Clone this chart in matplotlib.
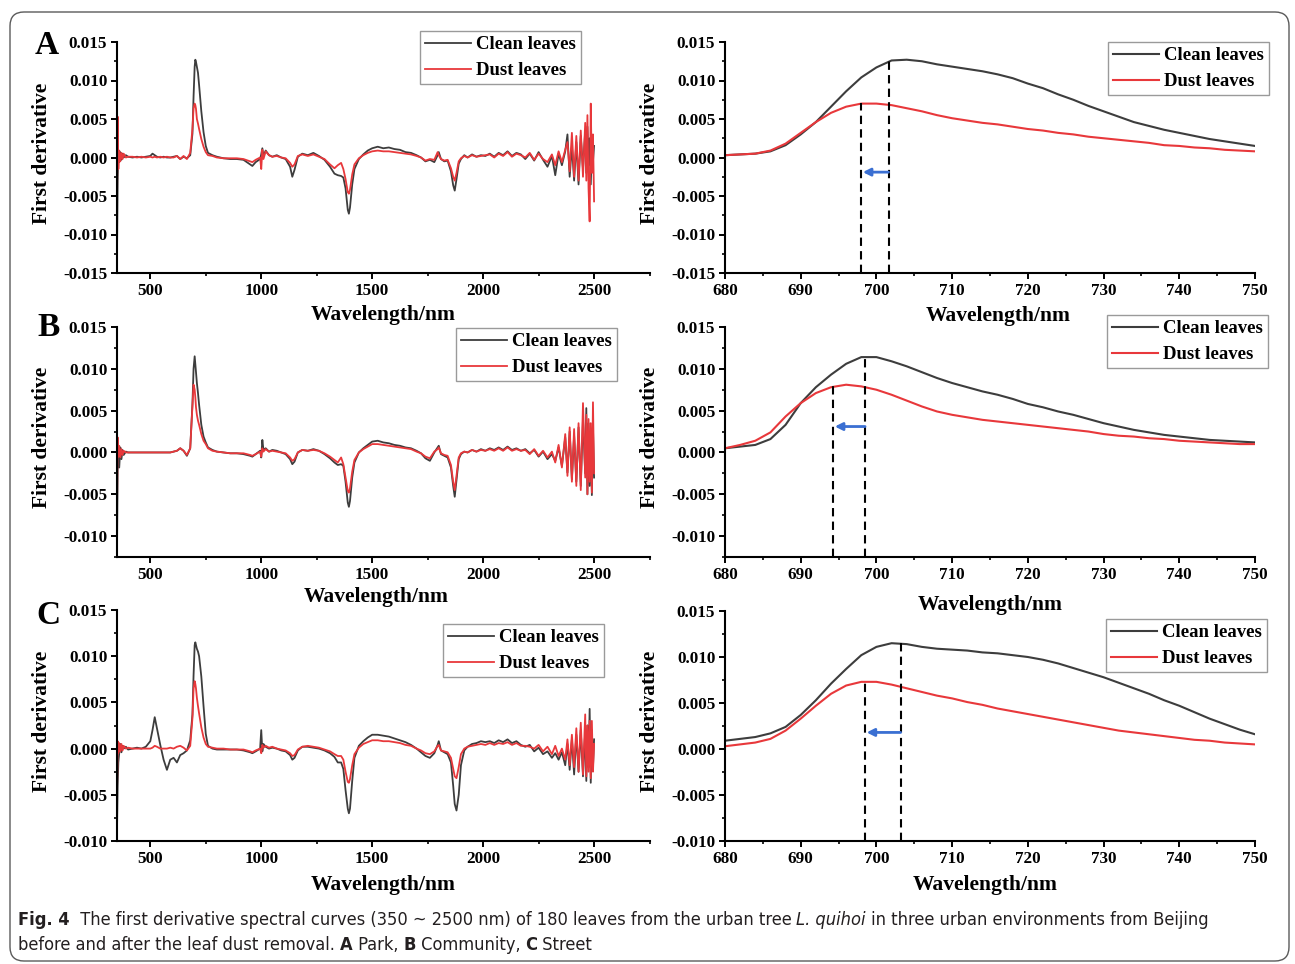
import numpy as np
import matplotlib
matplotlib.use('Agg')
import matplotlib.pyplot as plt
from matplotlib import font_manager as fm
from matplotlib.patches import FancyBboxPatch
from matplotlib.ticker import MultipleLocator, FormatStrFormatter
from matplotlib.transforms import IdentityTransform

# ------------------------------------------------------------------ data
# full-range first-derivative spectra (values in units of 1e-3)
full_wl = [350, 353, 356, 360, 365, 370, 375, 380, 390, 400,
           420, 440, 460, 480, 500, 510, 520, 530, 545, 560,
           575, 590, 605, 620, 635, 650, 665, 680, 690, 695,
           700, 703, 706, 710, 715, 720, 730, 740, 750, 760,
           780, 800, 830, 860, 890, 920, 950, 960, 975, 995,
           1000, 1005, 1010, 1020, 1035, 1050, 1070, 1090, 1110, 1130,
           1140, 1150, 1165, 1185, 1210, 1235, 1260, 1285, 1310, 1330,
           1345, 1360, 1370, 1380, 1390, 1395, 1400, 1410, 1420, 1440,
           1460, 1480, 1500, 1525, 1550, 1575, 1600, 1625, 1650, 1675,
           1700, 1720, 1740, 1760, 1780, 1795, 1800, 1810, 1825, 1840,
           1855, 1865, 1872, 1880, 1890, 1900, 1915, 1930, 1950, 1970,
           1990, 2010, 2030, 2050, 2070, 2090, 2110, 2130, 2150, 2170,
           2190, 2210, 2230, 2250, 2270, 2290, 2310, 2325, 2340, 2355,
           2370, 2380, 2390, 2400, 2410, 2420, 2430, 2440, 2450, 2460,
           2465, 2470, 2475, 2480, 2485, 2490, 2495, 2500]

park_clean_full = [-12.5, -3.0, 0.8, -0.6, 0.7, -0.3, 0.5, 0.0, 0.3, 0.1,
                   0.0, 0.1, 0.0, 0.1, 0.2, 0.5, 0.3, 0.1, 0.0, 0.1,
                   0.0, 0.0, 0.1, 0.2, -0.2, 0.1, -0.1, 0.3, 3.1, 7.9,
                   11.8, 12.7, 12.4, 11.8, 11.0, 9.4, 6.0, 3.3, 1.5, 0.6,
                   0.3, 0.1, -0.1, -0.2, -0.2, -0.3, -0.9, -1.1, -0.6, -0.2,
                   0.4, 1.2, 0.2, 0.9, 0.3, 0.1, 0.3, 0.0, -0.2, -1.2,
                   -2.5, -1.6, 0.1, 0.5, 0.3, 0.6, 0.2, -0.3, -1.2, -2.1,
                   -2.3, -2.4, -2.6, -4.0, -6.8, -7.3, -6.5, -3.5, -1.5, -0.2,
                   0.4, 0.9, 1.2, 1.4, 1.2, 1.3, 1.1, 1.0, 0.7, 0.6,
                   0.3, 0.0, -0.5, -0.3, -0.6, 0.3, 0.7, -0.2, -0.5, -0.4,
                   -1.8, -3.6, -4.3, -2.8, -0.8, -0.2, 0.3, 0.0, 0.4, 0.1,
                   0.3, 0.2, 0.5, 0.1, 0.6, 0.3, 0.8, 0.2, 0.6, 0.4,
                   -0.2, 0.5, -0.4, 0.7, -0.3, -1.2, 0.2, -2.3, 0.5, -1.0,
                   0.8, 3.0, -2.5, 1.5, -3.0, 2.0, -3.5, 2.8, -1.5, 3.5,
                   -2.0, 4.0, -1.0, 2.5, -3.5, 1.5, -0.5, 1.5]
park_dust_full = [-6.0, 5.3, -1.5, 0.9, -0.5, 0.6, -0.2, 0.5, 0.0, 0.1,
                  0.1, 0.0, 0.1, 0.0, 0.1, 0.0, 0.1, 0.0, 0.1, 0.0,
                  0.1, 0.0, 0.0, 0.2, -0.2, 0.2, -0.2, 0.6, 3.7, 6.4,
                  7.0, 6.8, 6.3, 5.0, 4.4, 3.7, 2.4, 1.4, 0.7, 0.3,
                  0.2, 0.0, -0.1, -0.1, -0.1, -0.2, -0.5, -0.6, -0.3, 0.0,
                  -1.5, 1.0, -0.2, 0.8, 0.3, 0.1, 0.2, 0.0, -0.1, -0.7,
                  -1.2, -0.9, 0.2, 0.4, 0.2, 0.4, 0.1, -0.2, -0.9, -1.4,
                  -1.0, -0.7, -1.5, -2.8, -4.5, -4.7, -4.2, -2.2, -0.9, -0.1,
                  0.3, 0.6, 0.8, 0.9, 0.8, 0.8, 0.7, 0.6, 0.5, 0.4,
                  0.2, 0.0, -0.4, -0.2, -0.3, 0.7, 0.3, -0.2, -0.4, -0.3,
                  -1.4, -2.5, -3.0, -2.0, -0.5, -0.1, 0.2, 0.0, 0.3, 0.1,
                  0.2, 0.3, 0.4, 0.0, 0.5, 0.2, 0.7, 0.1, 0.5, 0.3,
                  0.0, 0.6, -0.3, 0.5, -0.2, -0.6, 0.4, -1.0, 0.8, -0.6,
                  1.0, 2.0, -1.8, 3.2, -2.5, 2.8, -3.0, 3.5, -2.5, 4.5,
                  -3.0, 5.5, -4.0, -8.3, 7.0, -2.0, 3.0, -5.7]

comm_clean_full = [-11.7, -2.0, 0.5, -1.8, 0.6, -0.8, 0.3, -0.3, 0.1, 0.0,
                   0.0, 0.0, 0.0, 0.0, 0.0, 0.0, 0.0, 0.0, 0.0, 0.0,
                   0.0, 0.0, 0.1, 0.2, 0.5, 0.2, -0.4, 0.5, 5.8, 10.0,
                   11.5, 10.6, 9.6, 8.3, 7.1, 5.7, 3.3, 1.9, 1.2, 0.6,
                   0.3, 0.1, 0.0, -0.1, -0.1, -0.2, -0.4, -0.5, -0.2, 0.2,
                   -0.6, 1.5, 0.3, 0.5, 0.1, 0.3, 0.2, 0.0, -0.2, -0.8,
                   -1.4, -1.1, 0.0, 0.3, 0.2, 0.4, 0.2, -0.2, -0.7, -1.2,
                   -1.5, -1.4, -1.6, -3.5, -6.0, -6.5, -5.8, -3.0, -1.2, 0.0,
                   0.5, 0.9, 1.3, 1.4, 1.2, 1.1, 0.9, 0.8, 0.6, 0.5,
                   0.2, -0.1, -0.7, -1.0, 0.0, 0.6, 0.8, -0.2, -0.4, -0.6,
                   -1.8, -4.0, -5.3, -3.3, -0.8, -0.2, 0.1, 0.0, 0.3, 0.1,
                   0.4, 0.2, 0.5, 0.3, 0.6, 0.3, 0.7, 0.3, 0.5, 0.2,
                   0.4, -0.1, 0.3, -0.5, 0.1, -0.8, -0.2, -1.0, 0.6, -1.6,
                   1.8, -2.4, 2.5, -3.2, 2.0, -3.5, 3.0, -4.0, 4.0, -2.5,
                   5.3, -5.0, 3.5, -4.0, 2.5, -5.1, 3.0, -3.0]
comm_dust_full = [-6.8, 1.8, -0.5, 0.8, -0.6, 0.4, -0.3, 0.2, 0.0, 0.0,
                  0.0, 0.0, 0.0, 0.0, 0.0, 0.0, 0.0, 0.0, 0.0, 0.0,
                  0.0, 0.0, 0.1, 0.2, 0.5, 0.2, -0.3, 0.5, 5.7, 8.1,
                  7.5, 6.6, 5.4, 4.5, 3.8, 3.3, 2.2, 1.4, 1.0, 0.5,
                  0.2, 0.1, 0.0, -0.1, -0.1, -0.1, -0.3, -0.4, -0.2, 0.1,
                  -0.5, 0.5, 0.1, 0.4, 0.1, 0.2, 0.1, 0.0, -0.1, -0.6,
                  -1.0, -0.8, 0.0, 0.3, 0.2, 0.3, 0.2, -0.1, -0.5, -0.9,
                  -1.2, -0.6, -1.4, -3.0, -4.6, -4.8, -4.3, -2.3, -0.9, 0.0,
                  0.4, 0.7, 1.0, 1.0, 0.9, 0.8, 0.7, 0.6, 0.5, 0.4,
                  0.1, -0.1, -0.5, -0.7, 0.1, 0.4, 0.6, -0.1, -0.3, -0.4,
                  -1.5, -3.5, -4.5, -2.8, -0.6, -0.1, 0.1, 0.0, 0.3, 0.1,
                  0.3, 0.2, 0.4, 0.2, 0.5, 0.2, 0.6, 0.2, 0.4, 0.2,
                  0.3, -0.2, 0.4, -0.4, 0.2, -0.6, 0.1, -1.2, 0.9, -1.8,
                  2.2, -2.8, 3.0, -3.5, 2.8, -4.0, 3.5, -4.5, 5.9, -3.0,
                  4.5, -5.0, 4.0, -3.5, 3.5, -4.8, 6.0, -2.5]

street_clean_full = [-8.8, -4.0, -1.5, -0.5, 0.5, -0.4, 0.3, 0.0, 0.2, -0.1,
                     0.0, 0.1, 0.0, 0.2, 0.8, 2.0, 3.4, 2.2, 0.4, -1.2,
                     -2.3, -1.2, -1.0, -1.5, -0.7, -0.5, -0.2, 0.9, 3.7, 7.9,
                     11.2, 11.5, 11.2, 10.8, 10.5, 10.0, 7.8, 4.6, 1.6, 0.3,
                     0.0, -0.1, -0.1, -0.1, -0.1, -0.2, -0.4, -0.5, -0.3, 0.0,
                     2.0, -0.3, 0.5, 0.2, 0.0, 0.1, 0.0, -0.2, -0.3, -0.7,
                     -1.2, -1.0, -0.2, 0.2, 0.2, 0.1, 0.0, -0.2, -0.5, -0.9,
                     -1.5, -1.5, -2.2, -4.5, -6.5, -7.0, -6.5, -3.5, -1.0, 0.3,
                     0.8, 1.2, 1.5, 1.5, 1.4, 1.3, 1.1, 0.9, 0.7, 0.4,
                     0.0, -0.4, -0.8, -1.0, -0.5, 0.4, 0.8, -0.2, -0.4, -0.6,
                     -1.5, -4.0, -6.0, -6.7, -5.0, -1.8, -0.2, 0.2, 0.5, 0.6,
                     0.8, 0.7, 0.8, 0.6, 0.9, 0.7, 1.0, 0.6, 0.8, 0.4,
                     0.2, 0.4, -0.3, 0.1, -0.6, -0.3, -1.0, -0.5, -1.2, -0.4,
                     -1.8, 0.5, -2.3, 1.0, -2.8, 1.5, -2.5, 2.0, -3.0, 1.8,
                     -3.5, 2.5, -2.0, 4.3, -3.7, 2.0, -2.0, 1.0]
street_dust_full = [-5.0, 0.8, -0.5, 0.6, -0.3, 0.5, -0.2, 0.3, 0.0, 0.1,
                    0.0, 0.0, 0.0, 0.0, 0.0, 0.1, 0.3, 0.2, 0.0, 0.0,
                    0.0, 0.1, 0.0, 0.2, 0.3, 0.1, -0.2, 0.3, 3.3, 6.5,
                    7.3, 7.0, 6.5, 5.5, 4.6, 3.8, 2.3, 1.2, 0.5, 0.2,
                    0.1, 0.0, 0.0, -0.1, -0.1, -0.1, -0.3, -0.4, -0.2, 0.0,
                    -0.5, 0.4, 0.1, 0.3, 0.1, 0.2, 0.0, -0.1, -0.2, -0.5,
                    -0.8, -0.7, -0.1, 0.2, 0.3, 0.2, 0.1, -0.1, -0.3, -0.6,
                    -0.8, -0.8, -1.2, -2.5, -3.6, -3.7, -3.3, -1.8, -0.6, 0.1,
                    0.5, 0.7, 0.9, 0.9, 0.8, 0.8, 0.7, 0.6, 0.4, 0.3,
                    0.0, -0.2, -0.5, -0.6, -0.3, 0.3, 0.4, -0.2, -0.3, -0.4,
                    -1.0, -2.2, -3.0, -3.2, -2.0, -0.6, 0.0, 0.2, 0.3, 0.4,
                    0.5, 0.4, 0.6, 0.4, 0.6, 0.5, 0.7, 0.4, 0.6, 0.3,
                    0.3, 0.2, 0.0, 0.4, -0.3, 0.2, -0.6, 0.3, -0.8, 0.0,
                    -1.2, 1.0, -1.8, 1.5, -2.0, 2.2, -2.5, 2.8, -2.8, 3.7,
                    -3.0, 2.5, -2.5, 3.0, -3.2, 3.0, -2.5, 0.5]

# red-edge zoom (680-750 nm, 2 nm steps), values in units of 1e-3
edge_wl = list(range(680, 751, 2))
park_clean_edge = [0.3, 0.4, 0.5, 0.8, 1.6, 3.0, 4.6, 6.6, 8.6, 10.4,
                   11.7, 12.6, 12.7, 12.5, 12.1, 11.8, 11.5, 11.2, 10.8, 10.3,
                   9.6, 9.0, 8.2, 7.5, 6.7, 6.0, 5.3, 4.6, 4.1, 3.6,
                   3.2, 2.8, 2.4, 2.1, 1.8, 1.5]
park_dust_edge = [0.3, 0.4, 0.5, 0.9, 1.8, 3.2, 4.6, 5.8, 6.6, 7.0,
                  7.0, 6.8, 6.4, 6.0, 5.5, 5.1, 4.8, 4.5, 4.3, 4.0,
                  3.7, 3.5, 3.2, 3.0, 2.7, 2.5, 2.3, 2.1, 1.9, 1.6,
                  1.5, 1.3, 1.2, 1.0, 0.9, 0.8]
comm_clean_edge = [0.5, 0.7, 0.9, 1.6, 3.3, 5.9, 7.8, 9.3, 10.6, 11.4,
                   11.4, 10.9, 10.3, 9.6, 8.9, 8.3, 7.8, 7.3, 6.9, 6.4,
                   5.8, 5.4, 4.9, 4.5, 4.0, 3.5, 3.1, 2.7, 2.4, 2.1,
                   1.9, 1.7, 1.5, 1.4, 1.3, 1.2]
comm_dust_edge = [0.5, 0.9, 1.4, 2.4, 4.3, 5.9, 7.1, 7.8, 8.1, 7.9,
                  7.5, 6.9, 6.2, 5.5, 4.9, 4.5, 4.2, 3.9, 3.7, 3.5,
                  3.3, 3.1, 2.9, 2.7, 2.5, 2.2, 2.0, 1.9, 1.7, 1.6,
                  1.4, 1.3, 1.2, 1.1, 1.0, 1.0]
street_clean_edge = [0.9, 1.1, 1.3, 1.7, 2.4, 3.7, 5.3, 7.1, 8.7, 10.2,
                     11.1, 11.5, 11.4, 11.1, 10.9, 10.8, 10.7, 10.5, 10.4, 10.2,
                     10.0, 9.7, 9.3, 8.8, 8.3, 7.8, 7.2, 6.6, 6.0, 5.3,
                     4.7, 4.0, 3.3, 2.7, 2.1, 1.6]
street_dust_edge = [0.3, 0.5, 0.7, 1.1, 2.0, 3.3, 4.7, 6.0, 6.9, 7.3,
                    7.3, 7.0, 6.6, 6.2, 5.8, 5.5, 5.1, 4.8, 4.4, 4.1,
                    3.8, 3.5, 3.2, 2.9, 2.6, 2.3, 2.0, 1.8, 1.6, 1.4,
                    1.2, 1.0, 0.9, 0.7, 0.6, 0.5]

# red-edge positions (nm): clean, dust; peak heights (1e-3); arrow level (1e-3)
edge_pos_clean = [701.6, 698.5, 703.2]
edge_pos_dust = [698.0, 694.3, 698.5]
edge_top_clean = [12.6, 11.5, 11.5]
edge_top_dust = [7.1, 8.1, 7.5]
arrow_level = [-1.9, 3.1, 1.8]

panel_letters = ['A', 'B', 'C']
series_labels = ['Clean leaves', 'Dust leaves']
ylims = [(-0.015, 0.015), (-0.0125, 0.015), (-0.010, 0.015)]
UNIT = 1e-3

full_clean = [park_clean_full, comm_clean_full, street_clean_full]
full_dust = [park_dust_full, comm_dust_full, street_dust_full]
edge_clean = [park_clean_edge, comm_clean_edge, street_clean_edge]
edge_dust = [park_dust_edge, comm_dust_edge, street_dust_edge]

# ------------------------------------------------------------------ style
plt.rcParams['font.family'] = ['Liberation Serif', 'DejaVu Serif']
plt.rcParams['font.weight'] = 'bold'
plt.rcParams['axes.unicode_minus'] = False

W, H = 1295, 964
fig = plt.figure(figsize=(W / 100, H / 100), dpi=100)

C_CLEAN = '#3d3d3d'
C_DUST = '#e8383b'


def rect(l, r, t, b):
    return [l / W, 1 - b / H, (r - l) / W, (b - t) / H]


rows = [(42, 273, 42, 273), (327, 557, 327, 557), (610, 841, 611, 841)]
xlab_off_left = [42, 40, 44]
xlab_off_right = [43, 48, 44]
xlab_x_left = [0.499, 0.486, 0.50]
xlab_x_right = [0.515, 0.50, 0.49]
leg_left = [(420, 31), (456, 328), (443, 624)]
leg_right = [(1108, 42), (1107, 315), (1106, 619)]
letter_pos = [(47, 45), (49, 328), (48, 616)]


def style_axes(ax, ylim):
    ax.set_facecolor('none')
    for s in ['top', 'right']:
        ax.spines[s].set_visible(False)
    for s in ['left', 'bottom']:
        ax.spines[s].set_linewidth(1.5)
    ax.set_ylim(*ylim)
    ax.yaxis.set_major_locator(MultipleLocator(0.005))
    ax.yaxis.set_minor_locator(MultipleLocator(0.0025))
    ax.yaxis.set_major_formatter(FormatStrFormatter('%.3f'))
    ax.tick_params(which='major', direction='out', length=4, width=1.4,
                   labelsize=12.3, pad=3)
    ax.tick_params(which='minor', direction='out', length=2.5, width=1.2)
    for lab in ax.get_xticklabels() + ax.get_yticklabels():
        lab.set_fontweight('bold')


def add_legend(ax, x, y):
    leg = ax.legend(loc='upper left', bbox_to_anchor=(x / W, 1 - y / H),
                    bbox_transform=fig.transFigure, borderaxespad=0,
                    prop={'family': 'Liberation Serif', 'weight': 'bold', 'size': 13.5},
                    handlelength=2.45, handletextpad=0.25, labelspacing=0.48,
                    borderpad=0.27, fancybox=False, framealpha=1,
                    edgecolor='#9a9a9a')
    leg.get_frame().set_linewidth(1.0)


for i in range(3):
    lt, lb, rt, rb = rows[i]
    # ---- full-range panel
    ax = fig.add_axes(rect(117, 650, lt, lb))
    ax.plot(full_wl, np.array(full_clean[i]) * UNIT, color=C_CLEAN, lw=1.3,
            label=series_labels[0])
    ax.plot(full_wl, np.array(full_dust[i]) * UNIT, color=C_DUST, lw=1.3,
            label=series_labels[1])
    ax.set_xlim(350, 2752)
    ax.xaxis.set_major_locator(MultipleLocator(500))
    ax.xaxis.set_minor_locator(MultipleLocator(250))
    style_axes(ax, ylims[i])
    ax.set_ylabel('First derivative', fontsize=15.5, fontweight='bold')
    ax.yaxis.set_label_coords(-65 / 533, 0.52)
    ax.set_xlabel('Wavelength/nm', fontsize=15.5, fontweight='bold')
    ax.xaxis.set_label_coords(xlab_x_left[i], -xlab_off_left[i] / (lb - lt))
    ax.xaxis.label.set_verticalalignment('center')
    add_legend(ax, *leg_left[i])

    # ---- red-edge panel
    ax2 = fig.add_axes(rect(725, 1255, rt, rb))
    ax2.plot(edge_wl, np.array(edge_clean[i]) * UNIT, color=C_CLEAN, lw=1.5,
             label=series_labels[0])
    ax2.plot(edge_wl, np.array(edge_dust[i]) * UNIT, color=C_DUST, lw=1.5,
             label=series_labels[1])
    ax2.set_xlim(680, 750)
    ax2.xaxis.set_major_locator(MultipleLocator(10))
    ax2.xaxis.set_minor_locator(MultipleLocator(5))
    style_axes(ax2, ylims[i])
    ybot = ylims[i][0]
    ax2.vlines([edge_pos_clean[i]], ybot, edge_top_clean[i] * UNIT, colors='black',
               linestyles=(0, (4, 2.5)), lw=1.5, zorder=3)
    ax2.vlines([edge_pos_dust[i]], ybot, edge_top_dust[i] * UNIT, colors='black',
               linestyles=(0, (4, 2.5)), lw=1.5, zorder=3)
    ax2.annotate('', xy=(edge_pos_dust[i] + 0.2, arrow_level[i] * UNIT),
                 xytext=(edge_pos_clean[i], arrow_level[i] * UNIT),
                 arrowprops=dict(arrowstyle='-|>', color='#3a6fd2', lw=2.0,
                                 mutation_scale=11, shrinkA=0, shrinkB=0),
                 zorder=4)
    ax2.set_ylabel('First derivative', fontsize=15.5, fontweight='bold')
    ax2.yaxis.set_label_coords(-65 / 530, 0.52)
    ax2.set_xlabel('Wavelength/nm', fontsize=15.5, fontweight='bold')
    ax2.xaxis.set_label_coords(xlab_x_right[i], -xlab_off_right[i] / (rb - rt))
    ax2.xaxis.label.set_verticalalignment('center')
    add_legend(ax2, *leg_right[i])

    # panel letter
    fig.text(letter_pos[i][0] / W, 1 - letter_pos[i][1] / H, panel_letters[i],
             fontsize=24, fontweight='bold', family='Liberation Serif',
             ha='center', va='center')

# ------------------------------------------------------------------ frame
box = FancyBboxPatch((10, H - 961), 1279, 949,
                     boxstyle='round,pad=0,rounding_size=14',
                     transform=IdentityTransform(), facecolor='none',
                     edgecolor='#5a5a5a', lw=1.0, zorder=0)
fig.patches.append(box)

# ------------------------------------------------------------------ caption
cap_stretch = 'normal'
cap_family = 'Roboto'
names = {f.name for f in fm.fontManager.ttflist}
if 'Liberation Sans Narrow' in names:
    cap_family = 'Liberation Sans Narrow'
elif any(f.name == 'DejaVu Sans' and 'Condensed' in f.fname for f in fm.fontManager.ttflist):
    cap_family = 'DejaVu Sans'
    cap_stretch = 'condensed'
renderer = fig.canvas.get_renderer()

line1 = [('Fig. 4', 'bold', 'normal'),
         ('  The first derivative spectral curves (350 ~ 2500 nm) of 180 leaves from the urban tree ', 'normal', 'normal'),
         ('L. quihoi', 'normal', 'italic'),
         (' in three urban environments from Beijing', 'normal', 'normal')]
line2 = [('before and after the leaf dust removal. ', 'normal', 'normal'),
         ('A', 'bold', 'normal'), (' Park, ', 'normal', 'normal'),
         ('B', 'bold', 'normal'), (' Community, ', 'normal', 'normal'),
         ('C', 'bold', 'normal'), (' Street', 'normal', 'normal')]


def draw_runs(runs, x0, y0, size):
    x = x0
    objs = []
    for txt, wt, st in runs:
        t = fig.text(x / W, 1 - y0 / H, txt, fontsize=size, fontweight=wt,
                     fontstyle=st, family=[cap_family, 'DejaVu Sans'],
                     fontstretch=cap_stretch,
                     ha='left', va='center', color='#231f20')
        bb = t.get_window_extent(renderer)
        x += bb.width
        objs.append(t)
    return objs, x - x0


objs, wtot = draw_runs(line1, 18, 920, 12)
for o in objs:
    o.remove()
cap_size = 12 * 1195 / wtot
draw_runs(line1, 18, 920, cap_size)
draw_runs(line2, 18, 945, cap_size)

fig.savefig('out.png', dpi=100)
